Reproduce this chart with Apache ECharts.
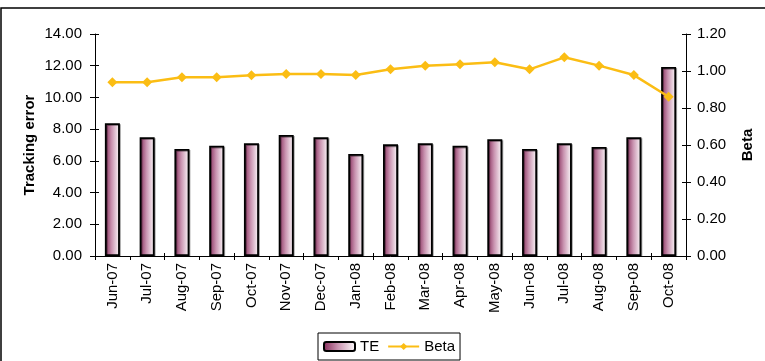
<!DOCTYPE html>
<html><head><meta charset="utf-8">
<script src="https://cdn.jsdelivr.net/npm/echarts@6/dist/echarts.min.js"></script>
<style>html,body{margin:0;padding:0;background:#fff}#c{width:765px;height:361px}</style>
</head><body><div id="c"></div>
<script>
const categories = ["Jun-07","Jul-07","Aug-07","Sep-07","Oct-07","Nov-07","Dec-07","Jan-08","Feb-08","Mar-08","Apr-08","May-08","Jun-08","Jul-08","Aug-08","Sep-08","Oct-08"];
const teValues = [8.37,7.49,6.75,6.96,7.11,7.63,7.49,6.43,7.04,7.11,6.96,7.36,6.75,7.11,6.87,7.49,11.92];
const betaValues = [0.939,0.939,0.966,0.966,0.977,0.984,0.984,0.978,1.009,1.029,1.036,1.047,1.009,1.074,1.029,0.978,0.861];
const leftTicks = [0,2,4,6,8,10,12,14];
const rightTicks = [0,0.2,0.4,0.6,0.8,1.0,1.2];

const font = "'Liberation Sans', Arial, sans-serif";
const fs = 15;
const chart = echarts.init(document.getElementById('c'), null, {renderer:'canvas'});
const barGrad = new echarts.graphic.LinearGradient(0,0,1,0,[
  {offset:0,color:'#842a58'},{offset:0.45,color:'#c993b0'},{offset:1,color:'#ffffff'}]);
const axisLine = {show:true, lineStyle:{color:'#000', width:1}};
const fmt = v => v.toFixed(2);
chart.setOption({
  animation:false,
  textStyle:{fontFamily:font},
  graphic:[{type:'rect', shape:{x:1,y:8,width:800,height:400}, style:{fill:'none', stroke:'#000', lineWidth:1.5}, z:-1}],
  grid:{left:95, right:79, top:34, bottom:105},
  legend:{
    left:318, top:333, padding:[6,5,6,5], borderColor:'#000', borderWidth:1,
    itemWidth:31, itemHeight:9, itemGap:8,
    textStyle:{fontFamily:font, fontSize:fs, color:'#000'},
    data:['TE','Beta']
  },
  xAxis:[{
    type:'category', data:categories, boundaryGap:true,
    axisLine:axisLine,
    axisTick:{show:true, alignWithLabel:false, length:4, lineStyle:{color:'#000'}},
    axisLabel:{rotate:90, fontFamily:font, fontSize:fs, color:'#000', margin:7, interval:0},
    splitLine:{show:false}
  },{
    type:'category', data:categories, position:'bottom', boundaryGap:true,
    axisLine:{show:false}, axisLabel:{show:false},
    axisTick:{show:true, inside:true, length:3, lineStyle:{color:'#000'}}
  }],
  yAxis:[{
    type:'value', min:0, max:14, interval:2, position:'left',
    name:'Tracking error', nameLocation:'middle', nameGap:58, nameRotate:90, nameMoveOverlap:false,
    nameTextStyle:{fontFamily:font, fontSize:fs, fontWeight:'bold', color:'#000'},
    axisLine:axisLine,
    axisTick:{show:true, length:5, lineStyle:{color:'#000'}},
    axisLabel:{fontFamily:font, fontSize:fs, color:'#000', margin:13, formatter:fmt},
    splitLine:{show:false}
  },{
    type:'value', min:0, max:1.2, interval:0.2, position:'right',
    name:'Beta', nameLocation:'middle', nameGap:54, nameRotate:90, nameMoveOverlap:false,
    nameTextStyle:{fontFamily:font, fontSize:fs, fontWeight:'bold', color:'#000'},
    axisLine:axisLine,
    axisTick:{show:true, length:5, lineStyle:{color:'#000'}},
    axisLabel:{fontFamily:font, fontSize:fs, color:'#000', margin:11, formatter:fmt},
    splitLine:{show:false}
  },{
    type:'value', min:0, max:14, interval:2, position:'left',
    axisLine:{show:false}, axisLabel:{show:false}, splitLine:{show:false},
    axisTick:{show:true, inside:true, length:4, lineStyle:{color:'#000'}}
  },{
    type:'value', min:0, max:1.2, interval:0.2, position:'right',
    axisLine:{show:false}, axisLabel:{show:false}, splitLine:{show:false},
    axisTick:{show:true, inside:true, length:4, lineStyle:{color:'#000'}}
  }],
  series:[{
    name:'TE', type:'bar', data:teValues, barWidth:15, yAxisIndex:0,
    itemStyle:{color:barGrad, borderColor:'#000', borderWidth:1.8,
      shadowColor:'rgba(0,0,0,0.35)', shadowOffsetX:1, shadowOffsetY:1, shadowBlur:0}
  },{
    name:'Beta', type:'line', data:betaValues, yAxisIndex:1,
    symbol:'diamond', symbolSize:10, showAllSymbol:true,
    lineStyle:{color:'#fbbd14', width:2.5},
    itemStyle:{color:'#fbbd14'}
  }]
});
</script></body></html>
